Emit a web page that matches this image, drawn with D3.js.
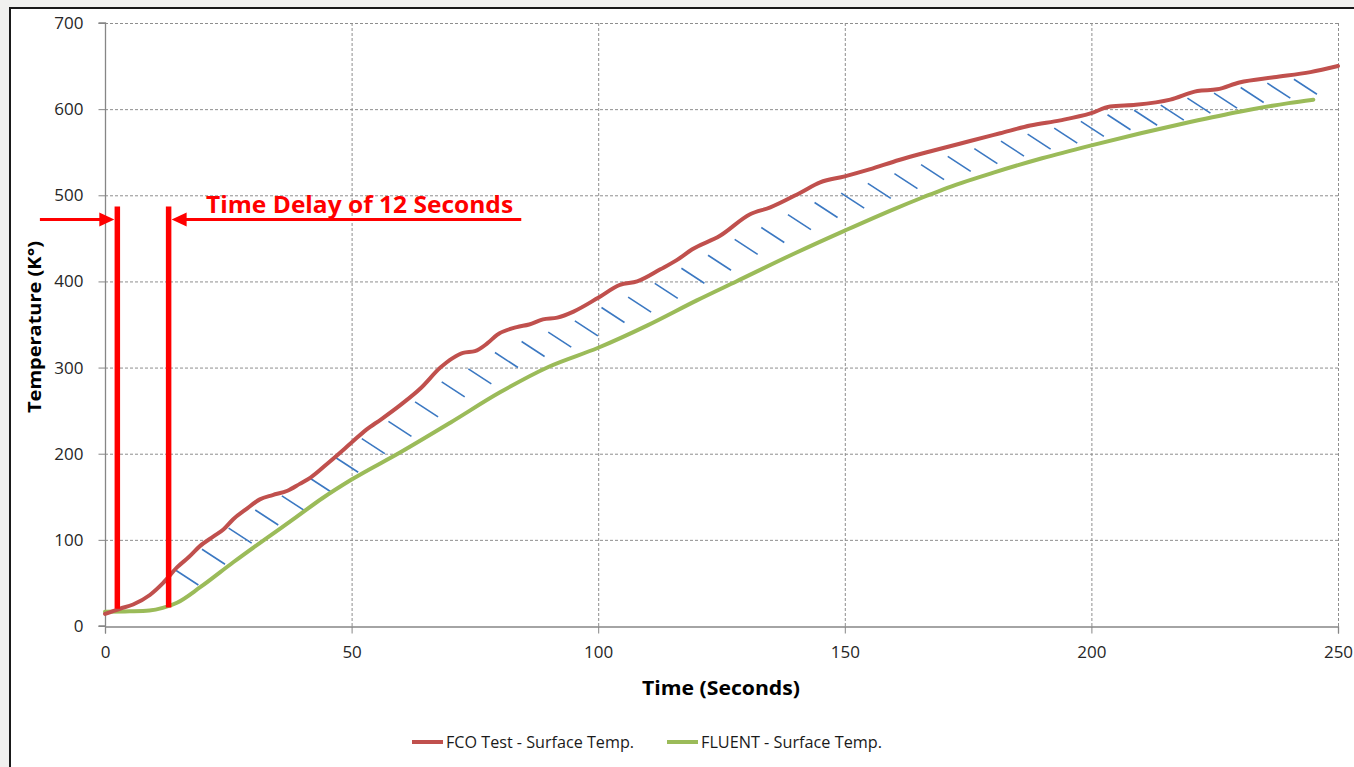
<!DOCTYPE html>
<html>
<head>
<meta charset="utf-8">
<script src="https://cdn.jsdelivr.net/npm/d3@7"></script>
<style>
  html, body { margin: 0; padding: 0; background: #f1f1ef; }
  svg { display: block; }
</style>
</head>
<body>
<div id="chart"></div>
<script>
// FCO test vs FLUENT surface temperature
const fcoTime = [0, 3, 5.7, 9.1, 11.8, 14.6, 17, 19.3, 22, 24, 26, 28.5, 31.4, 34, 37, 39.5, 41.6, 45.6, 50, 53, 56, 60, 64, 68, 70.5, 72.6, 75, 77.5, 79.5, 83.5, 86, 88.8, 91.7, 95, 100, 104.4, 107.9, 112.6, 116, 119, 124.7, 130.8, 134.9, 141, 145, 150, 155, 161, 168, 175.4, 181.5, 187.6, 193.7, 199.8, 203.8, 209, 216, 221.5, 225.5, 230, 237, 244.4, 250];
const fcoTemp = [14, 20, 25, 36, 50, 68, 80, 93, 104, 112, 124, 135, 147, 152, 157, 165, 172, 191, 213, 228, 240, 257, 276, 300, 311, 317, 319, 328, 338, 347, 350, 356, 358, 365, 381, 396, 400, 414, 425, 437, 453, 478, 486, 503, 515, 522, 530, 541, 552, 563, 572, 581, 587, 595, 603, 605, 611, 621, 623, 631, 637, 643, 650];

const fluentTime = [0, 5, 9, 11.7, 14.6, 19.3, 26, 33, 38.2, 44, 50, 60, 70, 80, 90, 100, 110, 120, 128, 140, 150, 160, 166, 170, 180, 190, 200, 210, 220, 230, 240, 245];
const fluentTemp = [16.5, 17, 18, 21, 27, 45, 74, 103, 124, 148, 170, 202, 236, 271, 301, 323, 349, 378, 400, 433, 459, 484, 498, 507, 526, 543, 558, 572, 585, 597, 607, 611];

const xTicks = [0, 50, 100, 150, 200, 250];
const yTicks = [0, 100, 200, 300, 400, 500, 600, 700];

const seriesNames = ["FCO Test - Surface Temp.", "FLUENT - Surface Temp."];
const seriesColors = ["#c0504d", "#9bbb59"];

// annotation (time delay markers)
const delayTimes = [2.5, 12.9];
const delayTop = 487;
const delayBottoms = [20, 21.5];
const arrowTemp = 472;
const arrowLeftStart = -13.2;
const arrowRightStart = 84.4;
const delayLabel = "Time Delay of 12 Seconds";

const W = 1354, H = 767;
const plot = { left: 105, right: 1338, top: 23, bottom: 626 };

const svg = d3.select("#chart").append("svg")
    .attr("width", W)
    .attr("height", H);

// chart frame
svg.append("rect")
    .attr("x", 10).attr("y", 8)
    .attr("width", W + 20).attr("height", H + 20)
    .attr("fill", "#ffffff")
    .attr("stroke", "#1a1a1a")
    .attr("stroke-width", 2);

const x = d3.scaleLinear().domain([0, 250]).range([plot.left, plot.right]);
const y = d3.scaleLinear().domain([0, 700]).range([plot.bottom, plot.top]);

const fco = fcoTime.map((t, i) => ({ t, v: fcoTemp[i] }));
const fluent = fluentTime.map((t, i) => ({ t, v: fluentTemp[i] }));

// gridlines
const grid = svg.append("g").attr("class", "grid");
grid.selectAll("line.h")
    .data(yTicks.filter(d => d > 0))
    .enter().append("line")
    .attr("x1", plot.left).attr("x2", plot.right)
    .attr("y1", d => y(d) + 0.5).attr("y2", d => y(d) + 0.5)
    .attr("stroke", "#8e8e8e")
    .attr("stroke-dasharray", "3,2");
grid.selectAll("line.v")
    .data(xTicks.filter(d => d > 0))
    .enter().append("line")
    .attr("y1", plot.top).attr("y2", plot.bottom)
    .attr("x1", d => x(d) + 0.5).attr("x2", d => x(d) + 0.5)
    .attr("stroke", "#8e8e8e")
    .attr("stroke-dasharray", "3,2");

// axes
const yAxis = d3.axisLeft(y).tickValues(yTicks).tickSize(7).tickPadding(14);
const xAxis = d3.axisBottom(x).tickValues(xTicks).tickSize(7).tickPadding(14);

const gy = svg.append("g")
    .attr("transform", `translate(${plot.left + 0.5},0)`)
    .call(yAxis);
const gx = svg.append("g")
    .attr("transform", `translate(0,${plot.bottom + 0.5})`)
    .call(xAxis);

[gy, gx].forEach(g => {
    g.select(".domain").attr("stroke", "#868686").attr("stroke-width", 1.3);
    g.selectAll(".tick line").attr("stroke", "#868686");
    g.selectAll(".tick text")
        .attr("fill", "#262626")
        .style("font-family", "'Open Sans', 'Noto Sans', sans-serif")
        .style("font-size", "17px");
});
gy.select(".domain").attr("d", `M-7,${plot.bottom}H0V${plot.top}H-7`);
gy.selectAll(".tick text").attr("x", -22);
gx.selectAll(".tick text").attr("y", 19);

// axis titles
svg.append("text")
    .attr("transform", "translate(41,327) rotate(-90)")
    .attr("text-anchor", "middle")
    .attr("textLength", 172)
    .attr("lengthAdjust", "spacingAndGlyphs")
    .style("font-family", "'Open Sans', 'Noto Sans', sans-serif")
    .style("font-weight", "bold")
    .style("font-size", "18px")
    .attr("fill", "#000")
    .text("Temperature (K°)");

svg.append("text")
    .attr("x", 721).attr("y", 695)
    .attr("text-anchor", "middle")
    .attr("textLength", 158)
    .attr("lengthAdjust", "spacingAndGlyphs")
    .style("font-family", "'Open Sans', 'Noto Sans', sans-serif")
    .style("font-weight", "bold")
    .style("font-size", "20px")
    .attr("fill", "#000")
    .text("Time (Seconds)");

// hatch lines between the two curves
function interp(arr, t) {
    const i = d3.bisector(d => d.t).left(arr, t);
    if (i <= 0) return arr[0].v;
    if (i >= arr.length) return arr[arr.length - 1].v;
    const a = arr[i - 1], b = arr[i];
    return a.v + (b.v - a.v) * (t - a.t) / (b.t - a.t);
}
const hatchTimes = d3.range(16.6, 244, 5.4);
svg.append("g").selectAll("line")
    .data(hatchTimes)
    .enter().append("line")
    .each(function(t) {
        const cx = x(t);
        const cy = (y(interp(fco, t)) + y(interp(fluent, t))) / 2;
        d3.select(this)
            .attr("x1", cx - 11.5).attr("y1", cy - 7.5)
            .attr("x2", cx + 11.5).attr("y2", cy + 7.5);
    })
    .attr("stroke", "#3b78c2")
    .attr("stroke-width", 1.6);

// series lines
const line = d3.line()
    .x(d => x(d.t))
    .y(d => y(d.v))
    .curve(d3.curveMonotoneX);

[fluent, fco].forEach((data, i) => {
    svg.append("path")
        .datum(data)
        .attr("d", line)
        .attr("fill", "none")
        .attr("stroke", seriesColors[1 - i])
        .attr("stroke-width", 4)
        .attr("stroke-linejoin", "round")
        .attr("stroke-linecap", "round");
});

// time delay annotation
const red = "#ff0000";
svg.append("g").selectAll("line")
    .data(delayTimes)
    .enter().append("line")
    .attr("x1", d => x(d)).attr("x2", d => x(d))
    .attr("y1", y(delayTop))
    .attr("y2", (d, i) => y(delayBottoms[i]))
    .attr("stroke", red)
    .attr("stroke-width", 5.5);

const ay = y(arrowTemp);
const tipL = x(delayTimes[0]) - 3;
const tipR = x(delayTimes[1]) + 3;
svg.append("line")
    .attr("x1", x(arrowLeftStart)).attr("x2", tipL - 12)
    .attr("y1", ay).attr("y2", ay)
    .attr("stroke", red).attr("stroke-width", 3);
svg.append("path")
    .attr("d", `M${tipL},${ay}L${tipL - 15},${ay - 7}L${tipL - 15},${ay + 7}Z`)
    .attr("fill", red);
svg.append("line")
    .attr("x1", x(arrowRightStart)).attr("x2", tipR + 12)
    .attr("y1", ay).attr("y2", ay)
    .attr("stroke", red).attr("stroke-width", 3);
svg.append("path")
    .attr("d", `M${tipR},${ay}L${tipR + 15},${ay - 7}L${tipR + 15},${ay + 7}Z`)
    .attr("fill", red);

svg.append("text")
    .attr("x", x(20.5)).attr("y", ay - 6)
    .attr("textLength", 307)
    .attr("lengthAdjust", "spacingAndGlyphs")
    .style("font-family", "'Open Sans', 'Noto Sans', sans-serif")
    .style("font-weight", "bold")
    .style("font-size", "24px")
    .attr("fill", red)
    .text(delayLabel);

// legend
const legendX = [412, 667];
const legendW = [188, 181];
const lg = svg.append("g");
seriesNames.forEach((name, i) => {
    lg.append("line")
        .attr("x1", legendX[i]).attr("x2", legendX[i] + 31)
        .attr("y1", 742).attr("y2", 742)
        .attr("stroke", seriesColors[i])
        .attr("stroke-width", 4);
    lg.append("text")
        .attr("x", legendX[i] + 34).attr("y", 748)
        .attr("textLength", legendW[i])
        .attr("lengthAdjust", "spacingAndGlyphs")
        .style("font-family", "'Open Sans', 'Noto Sans', sans-serif")
        .style("font-size", "16px")
        .attr("fill", "#1a1a1a")
        .text(name);
});
</script>
</body>
</html>
